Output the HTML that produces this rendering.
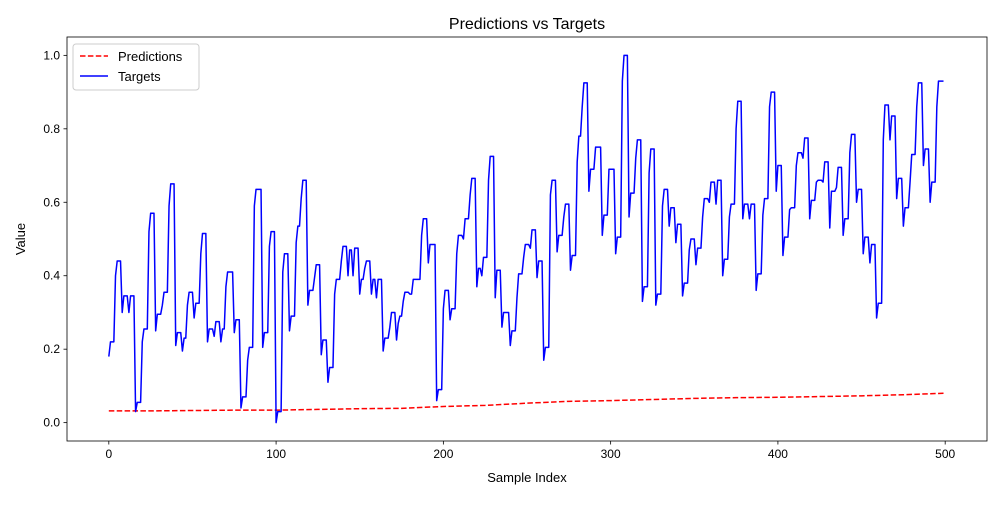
<!DOCTYPE html>
<html><head><meta charset="utf-8"><style>
body{margin:0;background:#fff;font-family:"Liberation Sans","DejaVu Sans",sans-serif}
</style></head><body>
<svg id="chart" width="1000" height="500" xmlns="http://www.w3.org/2000/svg" font-family="Liberation Sans, DejaVu Sans, sans-serif"></svg>
<script>
// target runs: [value, number of samples held]
const targetRuns=[[0.18,1],[0.22,3],[0.40,1],[0.44,3],[0.30,1],[0.345,3],[0.30,1],[0.345,3],[0.03,1],[0.055,3],
[0.22,1],[0.255,3],[0.52,1],[0.57,3],[0.25,1],[0.295,3],[0.32,1],[0.355,3],[0.59,1],[0.65,3],
[0.21,1],[0.245,3],[0.195,1],[0.23,2],[0.32,1],[0.355,3],[0.285,1],[0.325,3],[0.46,1],[0.515,3],
[0.22,1],[0.255,3],[0.235,1],[0.275,3],[0.22,1],[0.255,2],[0.37,1],[0.41,4],[0.245,1],[0.28,3],
[0.04,1],[0.07,3],[0.17,1],[0.205,3],[0.59,1],[0.635,4],[0.205,1],[0.245,3],[0.48,1],[0.52,3],
[0.0,1],[0.03,3],[0.41,1],[0.46,3],[0.25,1],[0.29,3],[0.49,1],[0.535,2],[0.61,1],[0.66,3],
[0.32,1],[0.36,3],[0.395,1],[0.43,3],[0.185,1],[0.225,3],[0.11,1],[0.15,3],[0.35,1],[0.39,3],
[0.44,1],[0.48,3],[0.4,1],[0.47,2],[0.4,1],[0.475,3],[0.35,1],[0.39,2],[0.42,1],[0.44,3],
[0.35,1],[0.39,2],[0.34,1],[0.39,3],[0.195,1],[0.23,3],[0.26,1],[0.3,3],[0.225,1],[0.27,1],
[0.29,2],[0.33,1],[0.355,3],[0.35,2],[0.39,5],[0.51,1],[0.555,3],[0.435,1],[0.485,4],[0.06,1],
[0.09,3],[0.31,1],[0.36,3],[0.28,1],[0.31,3],[0.46,1],[0.51,3],[0.5,1],[0.555,3],[0.62,1],
[0.665,3],[0.37,1],[0.42,2],[0.4,1],[0.45,3],[0.66,1],[0.725,3],[0.34,1],[0.415,3],[0.26,1],
[0.3,4],[0.21,1],[0.25,3],[0.34,1],[0.405,3],[0.45,1],[0.485,3],[0.475,1],[0.525,3],[0.395,1],
[0.44,3],[0.17,1],[0.205,3],[0.62,1],[0.66,3],[0.465,1],[0.51,3],[0.56,1],[0.595,3],[0.415,1],
[0.455,3],[0.71,1],[0.78,2],[0.86,1],[0.925,3],[0.63,1],[0.69,3],[0.75,4],[0.51,1],[0.565,3],
[0.69,4],[0.46,1],[0.505,3],[0.93,1],[1.0,3],[0.56,1],[0.625,3],[0.72,1],[0.77,3],[0.33,1],
[0.37,3],[0.68,1],[0.745,3],[0.32,1],[0.35,3],[0.59,1],[0.635,3],[0.535,1],[0.585,3],[0.49,1],
[0.54,3],[0.345,1],[0.38,3],[0.47,1],[0.5,3],[0.43,1],[0.475,3],[0.56,1],[0.61,3],[0.6,1],
[0.655,3],[0.595,1],[0.66,3],[0.4,1],[0.445,3],[0.56,1],[0.595,3],[0.8,1],[0.875,3],[0.555,1],
[0.595,3],[0.555,1],[0.595,3],[0.36,1],[0.405,3],[0.565,1],[0.61,3],[0.86,1],[0.9,3],[0.63,1],
[0.7,3],[0.455,1],[0.505,3],[0.58,1],[0.585,3],[0.7,1],[0.735,3],[0.72,1],[0.775,3],[0.555,1],
[0.605,3],[0.655,1],[0.66,3],[0.655,1],[0.71,3],[0.53,1],[0.63,3],[0.64,1],[0.695,3],[0.51,1],
[0.555,3],[0.735,1],[0.785,3],[0.6,1],[0.635,3],[0.46,1],[0.505,3],[0.435,1],[0.485,3],[0.285,1],
[0.325,3],[0.77,1],[0.865,3],[0.77,1],[0.835,3],[0.61,1],[0.665,3],[0.535,1],[0.585,3],[0.655,1],
[0.73,3],[0.86,1],[0.925,3],[0.7,1],[0.745,3],[0.6,1],[0.655,3],[0.86,1],[0.93,4]];
const predIndex=[0,25,50,75,100,125,150,175,200,225,250,275,300,325,350,375,400,425,450,475,499];
const predValues=[0.032,0.032,0.033,0.034,0.034,0.036,0.038,0.039,0.044,0.047,0.053,0.058,0.060,0.063,0.066,0.068,0.069,0.071,0.073,0.076,0.080];
const xTicks=[0,100,200,300,400,500];
const yTicks=[0.0,0.2,0.4,0.6,0.8,1.0];

const svg=document.getElementById('chart');
const NS='http://www.w3.org/2000/svg';
const L=67,R=987,T=37,B=441;
const xMin=-25,xMax=525,yMin=-0.05,yMax=1.05;
const xs=v=>L+(v-xMin)/(xMax-xMin)*(R-L);
const ys=v=>B-(v-yMin)/(yMax-yMin)*(B-T);
function mk(tag,attrs,parent){const e=document.createElementNS(NS,tag);for(const k in attrs)e.setAttribute(k,attrs[k]);(parent||svg).appendChild(e);return e;}

const target=[];
targetRuns.forEach(r=>{for(let k=0;k<r[1];k++)target.push(r[0]);});
// time axis spans 0..499 regardless of run count
const tScale=499/Math.max(1,target.length-1);

const frame=mk('rect',{x:L,y:T,width:R-L,height:B-T,fill:'none',stroke:'#000','stroke-width':0.8});



xTicks.forEach(t=>{
  const g=mk('g',{});
  
  
  mk('line',{x1:xs(t),x2:xs(t),y1:B,y2:B+3.5,stroke:'#000','stroke-width':0.8},g);
  const tx=mk('text',{x:xs(t),y:B+17,'text-anchor':'middle','font-size':12,fill:'#000'},g);tx.textContent=t;
});
yTicks.forEach(t=>{
  const g=mk('g',{});
  
  
  mk('line',{x1:L-3.5,x2:L,y1:ys(t),y2:ys(t),stroke:'#000','stroke-width':0.8},g);
  const tx=mk('text',{x:L-7,y:ys(t)+4,'text-anchor':'end','font-size':12,fill:'#000'},g);tx.textContent=t.toFixed(1);
});

const pp=predIndex.map((x,i)=>xs(x)+','+ys(predValues[i])).join(' ');
const pl=mk('polyline',{points:pp,fill:'none',stroke:'#ff0000','stroke-width':1.5,'stroke-dasharray':'5.5,2.4'});



const tp=target.map((v,i)=>xs(i*tScale)+','+ys(v)).join(' ');
const tl=mk('polyline',{points:tp,fill:'none',stroke:'#0000ff','stroke-width':1.5,'stroke-linejoin':'round'});



const title=mk('text',{x:(L+R)/2,y:29,'text-anchor':'middle','font-size':16,fill:'#000'});
title.textContent='Predictions vs Targets';


const xl=mk('text',{x:(L+R)/2,y:482,'text-anchor':'middle','font-size':13,fill:'#000'});
xl.textContent='Sample Index';


const yl=mk('text',{x:25,y:(T+B)/2,'text-anchor':'middle','font-size':13,fill:'#000',transform:'rotate(-90 25 '+((T+B)/2)+')'});
yl.textContent='Value';



const lg=mk('g',{});


mk('rect',{x:73,y:44,width:126,height:46,rx:3,fill:'#fff',stroke:'#ccc','stroke-width':1},lg);
const e1=mk('g',{},lg);


mk('line',{x1:80,x2:108,y1:56,y2:56,stroke:'#ff0000','stroke-width':1.5,'stroke-dasharray':'5.5,2.4'},e1);
const t1=mk('text',{x:118,y:61,'font-size':13,fill:'#000'},e1);t1.textContent='Predictions';
const e2=mk('g',{},lg);


mk('line',{x1:80,x2:108,y1:76,y2:76,stroke:'#0000ff','stroke-width':1.5},e2);
const t2=mk('text',{x:118,y:81,'font-size':13,fill:'#000'},e2);t2.textContent='Targets';
</script>
</body></html>
